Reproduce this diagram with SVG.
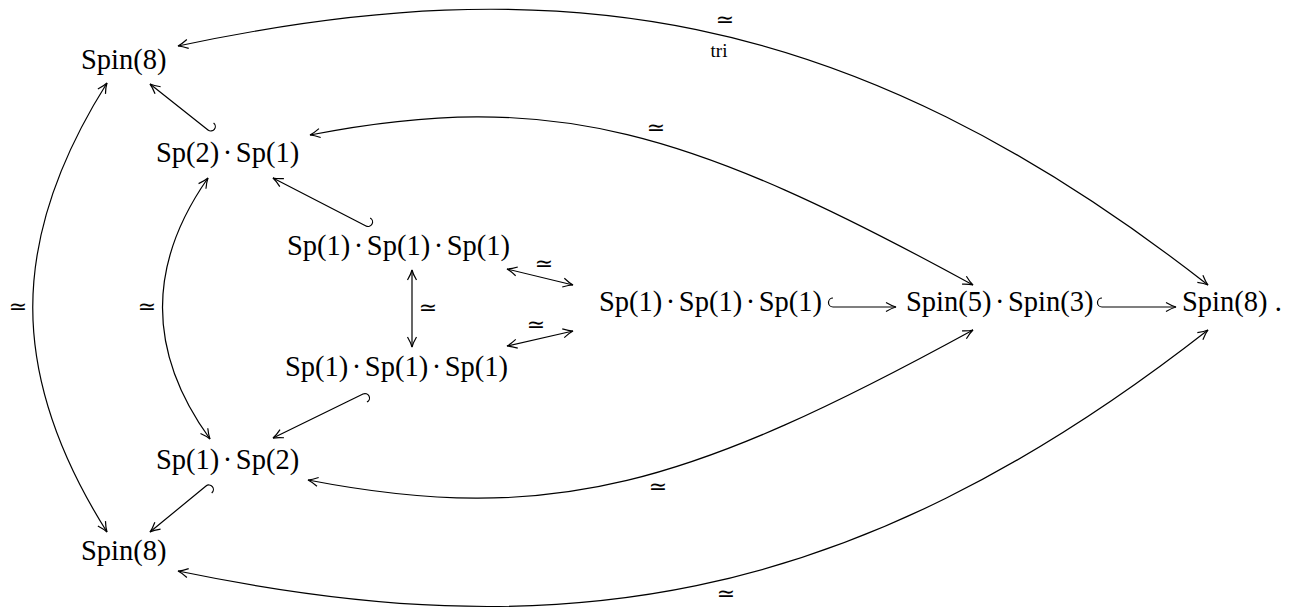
<svg xmlns="http://www.w3.org/2000/svg" width="1298" height="608" viewBox="0 0 1298 608">
<style>
.n{font-family:"Liberation Serif","Times New Roman",serif;font-size:28.5px;fill:#000}
.e{fill:none;stroke:#000;stroke-width:1.2}
.l{font-family:"DejaVu Sans",sans-serif;font-size:22px;text-anchor:middle;fill:#000}
.t{font-family:"Liberation Serif","Times New Roman",serif;font-size:19px;text-anchor:middle;fill:#000}
</style>
<defs>
<marker id="ah" viewBox="-12 -7 14 14" refX="0" refY="0" markerWidth="14" markerHeight="14" markerUnits="userSpaceOnUse" orient="auto-start-reverse" style="overflow:visible">
<path d="M-10,-4.5 Q-4,-1 0,0 Q-4,1 -10,4.5" fill="none" stroke="#000" stroke-width="1.2"/>
</marker>
</defs>
<rect width="1298" height="608" fill="#fff"/>

<g id="connectors">
<!-- outer arcs -->
<path class="e" d="M178,46 C549.6,-33 845.5,1.6 1208,285" marker-start="url(#ah)" marker-end="url(#ah)"/>
<path class="e" d="M178,571 C549.6,648 845.5,613.4 1208,330" marker-start="url(#ah)" marker-end="url(#ah)"/>
<!-- inner arcs -->
<path class="e" d="M310,135 C553,87.5 692,131.4 973,285" marker-start="url(#ah)" marker-end="url(#ah)"/>
<path class="e" d="M308,480 C553,527.5 692,483.6 973,330" marker-start="url(#ah)" marker-end="url(#ah)"/>
<!-- left arcs -->
<path class="e" d="M107,83 C8,240 8,375 107,532" marker-start="url(#ah)" marker-end="url(#ah)"/>
<path class="e" d="M208,178 C147,265 147,352 210,439" marker-start="url(#ah)" marker-end="url(#ah)"/>
<!-- vertical and diagonal double arrows -->
<path class="e" d="M412,270 L412,347" marker-start="url(#ah)" marker-end="url(#ah)"/>
<path class="e" d="M507,269 L573,285" marker-start="url(#ah)" marker-end="url(#ah)"/>
<path class="e" d="M507,346 L573,331" marker-start="url(#ah)" marker-end="url(#ah)"/>
<!-- hooked arrows -->
<path class="e" transform="translate(208,130) rotate(218.4)" d="M0,9 A4.5,4.5 0 0 1 0,0 L74,0" marker-end="url(#ah)"/>
<path class="e" transform="translate(366,226) rotate(207.3)" d="M0,9 A4.5,4.5 0 0 1 0,0 L104.7,0" marker-end="url(#ah)"/>
<path class="e" transform="translate(363,394) rotate(153.9)" d="M0,-9 A4.5,4.5 0 0 0 0,0 L100.2,0" marker-end="url(#ah)"/>
<path class="e" transform="translate(206,486) rotate(140.6)" d="M0,-9 A4.5,4.5 0 0 0 0,0 L72.5,0" marker-end="url(#ah)"/>
<path class="e" d="M833,298 A4.5,4.5 0 0 0 833,307 L896,307" marker-end="url(#ah)"/>
<path class="e" d="M1102,298 A4.5,4.5 0 0 0 1102,307 L1176,307" marker-end="url(#ah)"/>
<!-- labels -->
<text class="l" x="725" y="27">≃</text>
<text class="t" x="719" y="57">tri</text>
<text class="l" x="656" y="135">≃</text>
<text class="l" x="658" y="494">≃</text>
<text class="l" x="726" y="601">≃</text>
<text class="l" x="544" y="271">≃</text>
<text class="l" x="536" y="332">≃</text>
<text class="l" x="428" y="315">≃</text>
<text class="l" x="18" y="314">≃</text>
<text class="l" x="147" y="314">≃</text>
</g>

<g id="spin8-top"><text class="n" x="81" y="69">Spin(8)</text></g>
<g id="sp2sp1"><text class="n" x="156" y="162">Sp(2)<tspan dx="3.5">·</tspan><tspan dx="3.5">Sp(1)</tspan></text></g>
<g id="sp1cubed-top"><text class="n" x="287" y="255">Sp(1)<tspan dx="3.5">·</tspan><tspan dx="3.5">Sp(1)</tspan><tspan dx="3.5">·</tspan><tspan dx="3.5">Sp(1)</tspan></text></g>
<g id="sp1cubed-bottom"><text class="n" x="285" y="376">Sp(1)<tspan dx="3.5">·</tspan><tspan dx="3.5">Sp(1)</tspan><tspan dx="3.5">·</tspan><tspan dx="3.5">Sp(1)</tspan></text></g>
<g id="sp1cubed-mid"><text class="n" x="599" y="311">Sp(1)<tspan dx="3.5">·</tspan><tspan dx="3.5">Sp(1)</tspan><tspan dx="3.5">·</tspan><tspan dx="3.5">Sp(1)</tspan></text></g>
<g id="spin5spin3"><text class="n" x="906" y="311">Spin(5)<tspan dx="3.5">·</tspan><tspan dx="3.5">Spin(3)</tspan></text></g>
<g id="spin8-right"><text class="n" x="1182" y="311">Spin(8) .</text></g>
<g id="sp1sp2"><text class="n" x="156" y="469">Sp(1)<tspan dx="3.5">·</tspan><tspan dx="3.5">Sp(2)</tspan></text></g>
<g id="spin8-bottom"><text class="n" x="81" y="560">Spin(8)</text></g>
</svg>
